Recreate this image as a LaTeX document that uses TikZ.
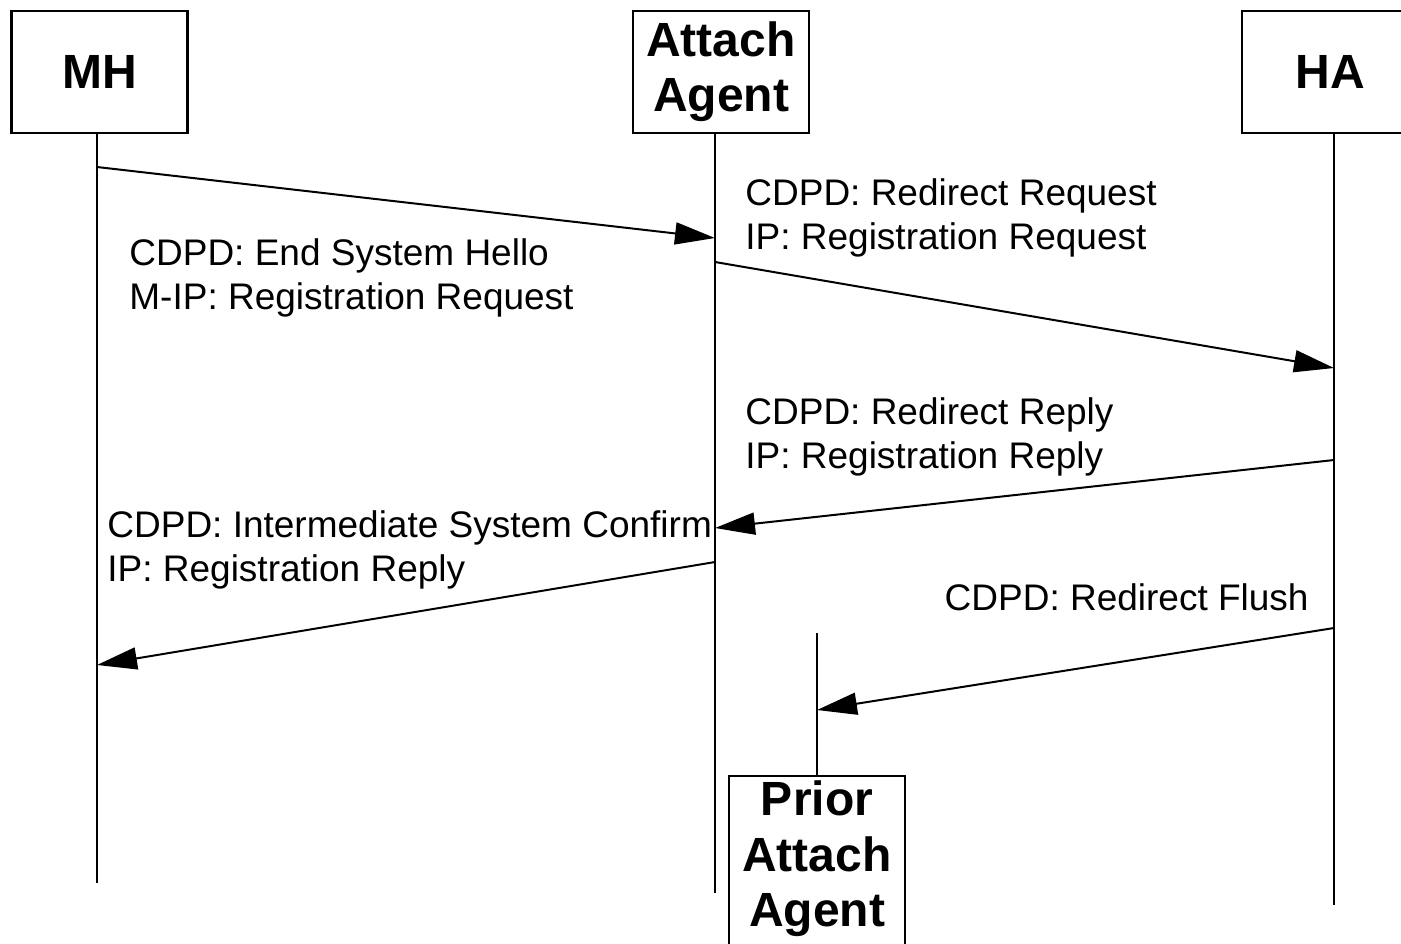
\documentclass[tikz,border=0pt]{standalone}
\usepackage{fontspec}
\setmainfont{Liberation Sans}
\usetikzlibrary{arrows.meta}
\begin{document}
\begin{tikzpicture}[x=0.5pt,y=-0.5pt,
  entity/.style={draw,line width=1.2pt,minimum width=88pt,minimum height=61pt,inner sep=0pt,
    align=center,font=\bfseries\fontsize{24}{27.5}\selectfont},
  life/.style={line width=1pt},
  msg/.style={line width=1pt,-{Triangle[length=20pt,width=11pt]}},
  lbl/.style={anchor=base west,inner sep=0pt,font=\fontsize{18.5}{22}\selectfont}]
\useasboundingbox (0,0) rectangle (1401,943);
\clip (0,0) rectangle (1401,943);
\fill[white] (0,0) rectangle (1401,943);
% entities
\node[entity] (mh) at (99.5,72) {MH};
\node[entity] (aa) at (721,72) {Attach\\Agent};
\node[entity] (ha) at (1330,72) {HA};
\node[entity,anchor=north,inner ysep=2.5pt] (paa) at (817,775) {Prior\\Attach\\Agent\rule[-30pt]{0pt}{0pt}};
% lifeline ends
\coordinate (mhE) at (97,883);
\coordinate (aaE) at (715,893);
\coordinate (haE) at (1334,905);
\coordinate (paaT) at (817,633);
\draw[life] (mh.south -| mhE) -- (mhE);
\draw[life] (aa.south -| aaE) -- (aaE);
\draw[life] (ha.south -| haE) -- (haE);
\draw[life] (paaT) -- (paa.north -| paaT);
% message points
\coordinate (m1s) at (97,167);  \coordinate (m1e) at (715,238);
\coordinate (m2s) at (715,262); \coordinate (m2e) at (1334,368);
\coordinate (m3s) at (1334,460);\coordinate (m3e) at (715,528);
\coordinate (m4s) at (715,562); \coordinate (m4e) at (97,665);
\coordinate (m5s) at (1334,628);\coordinate (m5e) at (817,710);
\draw[msg] (m1s) -- (m1e);
\draw[msg] (m2s) -- (m2e);
\draw[msg] (m3s) -- (m3e);
\draw[msg] (m4s) -- (m4e);
\draw[msg] (m5s) -- (m5e);
% labels
\node[lbl] (l1a) at (129,265) {CDPD: End System Hello};
\node[lbl] (l1b) at (129,309) {M-IP: Registration Request};
\node[lbl] (l2a) at (745,205) {CDPD: Redirect Request};
\node[lbl] (l2b) at (745,249) {IP: Registration Request};
\node[lbl] (l3a) at (745,424) {CDPD: Redirect Reply};
\node[lbl] (l3b) at (745,468) {IP: Registration Reply};
\node[lbl] (l4a) at (107,537) {CDPD: Intermediate System Confirm};
\node[lbl] (l4b) at (107,581) {IP: Registration Reply};
\node[lbl,anchor=base east] (l5) at (1309,610) {CDPD: Redirect Flush};
\end{tikzpicture}
\end{document}
